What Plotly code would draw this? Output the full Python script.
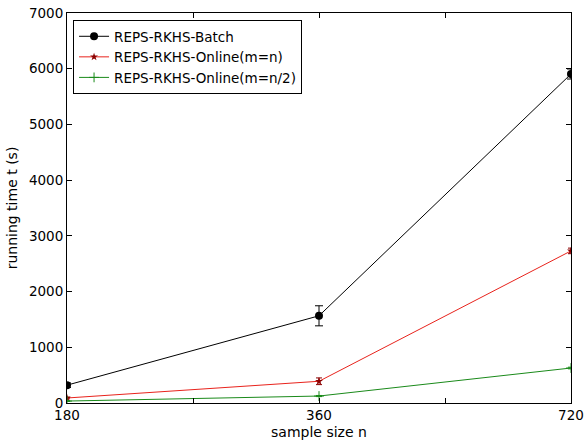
import plotly.graph_objects as go

sample_sizes = ["180", "360", "720"]
x_pos = [0, 1, 2]
batch = [320, 1565, 5905]
batch_err = [40, 180, 90]
online_mn = [90, 390, 2730]
online_mn_err = [15, 60, 50]
online_mn2 = [35, 125, 628]
online_mn2_err = [5, 10, 15]

fig = go.Figure()
fig.add_trace(go.Scatter(
    x=x_pos, y=batch, mode="lines+markers", name="REPS-RKHS-Batch",
    line=dict(color="black", width=1),
    marker=dict(symbol="circle", size=8, color="black"),
    error_y=dict(type="data", array=batch_err, color="black", thickness=1, width=4),
))
fig.add_trace(go.Scatter(
    x=x_pos, y=online_mn, mode="lines+markers", name="REPS-RKHS-Online(m=n)",
    line=dict(color="#e8231c", width=1),
    marker=dict(symbol="star", size=6, color="#8b0000", line=dict(width=0)),
    error_y=dict(type="data", array=online_mn_err, color="#8b0000", thickness=1, width=3),
))
fig.add_trace(go.Scatter(
    x=x_pos, y=online_mn2, mode="lines+markers", name="REPS-RKHS-Online(m=n/2)",
    line=dict(color="#1a8a1a", width=1),
    marker=dict(symbol="cross-thin", size=7, color="#1a8a1a", line=dict(width=1, color="#1a8a1a")),
    error_y=dict(type="data", array=online_mn2_err, color="#1a8a1a", thickness=1, width=3),
))

fig.update_layout(
    width=584, height=441,
    margin=dict(l=67, r=13, t=13, b=38, autoexpand=False),
    paper_bgcolor="white", plot_bgcolor="white",
    font=dict(family="DejaVu Sans", size=14, color="black"),
    showlegend=True,
    legend=dict(x=0.012, y=0.982, xanchor="left", yanchor="top",
                bordercolor="black", borderwidth=1, bgcolor="white",
                font=dict(size=13.5), tracegroupgap=0),
)
fig.update_xaxes(
    range=[0, 2], tickmode="array", automargin=False, ticklabeloverflow="allow",
    tickvals=[0, 0.5, 1, 1.5, 2], ticktext=[sample_sizes[0], "", sample_sizes[1], "", sample_sizes[2]],
    showgrid=False, zeroline=False, showline=True, linecolor="black", linewidth=1,
    mirror="ticks", ticks="inside", ticklen=5, tickcolor="black",
    title=dict(text="sample size n", standoff=4, font=dict(size=14)), tickfont=dict(size=13.5),
)
fig.update_yaxes(
    range=[0, 7000], tickmode="array", automargin=False, ticklabeloverflow="allow",
    tickvals=[0, 1000, 2000, 3000, 4000, 5000, 6000, 7000],
    showgrid=False, zeroline=False, showline=True, linecolor="black", linewidth=1,
    mirror="ticks", ticks="inside", ticklen=5, tickcolor="black",
    title=dict(text="running time t (s)", standoff=8, font=dict(size=14)), tickfont=dict(size=13.5),
)

fig.write_html("out.html", config={"displayModeBar": False},
               post_script="document.body.style.margin='0';document.body.style.padding='0';")
